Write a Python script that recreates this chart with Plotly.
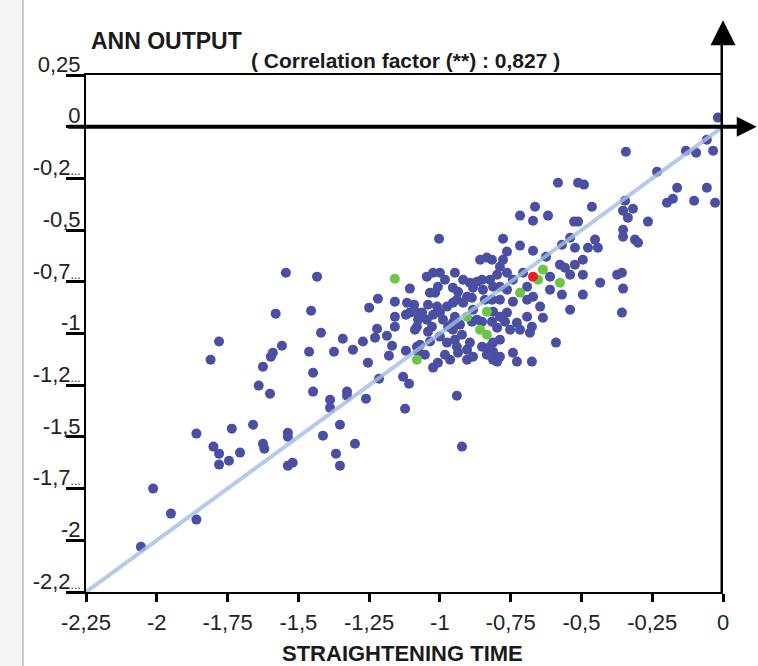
import plotly.graph_objects as go

# ---- data ----
blue_x = [-1.544, -1.434, -1.58, -1.455, -1.78, -1.81, -1.42, -1.558, -1.59, -1.597,
          -1.625, -1.462, -1.374, -1.343, -1.307, -1.64, -1.60, -1.448, -1.448, -1.388,
          -1.388, -1.328, -1.328, -1.86, -1.80, -1.78, -1.78, -1.745, -1.735, -1.706,
          -1.66, -1.625, -1.62, -1.537, -1.537, -1.537, -1.52, -1.413, -1.353, -1.367,
          -1.353, -1.30, -2.013, -1.95, -1.86, -2.056, -1.003, -1.106, -1.219, -1.25,
          -1.159, -1.272, -1.222, -1.229, -1.187, -1.159, -1.159, -1.169, -1.18, -1.254,
          -1.261, -1.215, -1.13, -1.109, -1.123, -0.94, -0.922, -1.12, -1.081, -1.077,
          -1.024, -1.007, -0.982, -1.116, -1.091, -1.081, -1.077, -1.081, -1.106, -1.12,
          -1.046, -1.024, -1.0, -0.982, -0.947, -0.918, -0.894, -0.869, -0.858, -0.834,
          -0.816, -1.035, -1.017, -0.954, -0.94, -0.904, -0.883, -0.848, -1.046, -1.028,
          -1.0, -0.989, -0.971, -0.947, -0.954, -0.929, -0.883, -0.869, -1.0, -0.975,
          -0.94, -0.904, -0.883, -0.851, -0.823, -0.812, -1.01, -0.975, -0.954, -0.918,
          -0.816, -0.583, -0.512, -0.491, -0.346, -0.664, -0.717, -0.671, -0.618, -0.463,
          -0.526, -0.512, -0.353, -0.318, -0.336, -0.353, -0.353, -0.311, -0.777, -0.717,
          -0.763, -0.671, -0.625, -0.569, -0.54, -0.523, -0.452, -0.442, -0.477, -0.495,
          -0.523, -0.576, -0.558, -0.611, -0.54, -0.495, -0.374, -0.357, -0.434, -0.353,
          -0.495, -0.569, -0.611, -0.54, -0.357, -0.646, -0.636, -0.682, -0.742, -0.763,
          -0.788, -0.823, -0.788, -0.692, -0.692, -0.671, -0.763, -0.728, -0.752, -0.788,
          -0.812, -0.742, -0.728, -0.798, -0.675, -0.59, -0.717, -0.018, -0.057, -0.131,
          -0.095, -0.035, -0.343, -0.233, -0.162, -0.057, -0.198, -0.177, -0.102, -0.028,
          -0.265, -0.30, -0.798, -0.706, -0.812, -0.763, -0.788, -0.742, -0.788, -0.692,
          -1.024, -0.954, -0.798, -0.675, -0.894, -0.788, -0.964, -0.904,
          -0.777, -0.851, -1.007, -0.936, -1.042, -0.887, -0.841, -1.063, -0.812, -0.887,
          -0.851, -0.816, -0.770, -1.088, -1.042, -0.922, -1.070, -1.035, -0.947, -0.812,
          -1.053, -0.936, -0.834]
blue_y = [-0.706, -0.725, -0.904, -0.89, -1.039, -1.127, -0.996, -1.059, -1.093, -1.112,
          -1.161, -1.088, -1.088, -1.025, -1.078, -1.252, -1.291, -1.19, -1.281, -1.32,
          -1.359, -1.281, -1.301, -1.484, -1.547, -1.581, -1.634, -1.615, -1.46, -1.576,
          -1.441, -1.533, -1.557, -1.48, -1.499, -1.639, -1.625, -1.494, -1.441, -1.581,
          -1.639, -1.533, -1.75, -1.871, -1.90, -2.031, -0.542, -0.783, -0.832, -0.875,
          -0.846, -1.039, -0.977, -1.02, -1.011, -0.919, -0.967, -1.059, -1.107, -1.141,
          -1.315, -1.219, -1.209, -1.243, -1.364, -1.301, -1.547, -1.083, -1.064, -1.088,
          -1.165, -1.141, -1.103, -0.851, -0.861, -0.899, -0.933, -0.967, -0.899, -0.909,
          -0.725, -0.706, -0.706, -0.74, -0.706, -0.74, -0.754, -0.75, -0.643, -0.633,
          -0.643, -0.803, -0.803, -0.779, -0.837, -0.822, -0.779, -0.788, -0.933, -0.967,
          -0.899, -0.933, -0.967, -0.919, -0.948, -0.957, -0.885, -0.933, -1.015, -1.044,
          -1.064, -1.078, -1.112, -1.064, -1.064, -1.127, -0.87, -0.87, -0.851, -0.851,
          -0.837, -0.271, -0.271, -0.28, -0.358, -0.387, -0.43, -0.455, -0.43, -0.387,
          -0.459, -0.459, -0.406, -0.397, -0.44, -0.498, -0.532, -0.546, -0.542, -0.575,
          -0.604, -0.60, -0.629, -0.571, -0.537, -0.585, -0.546, -0.585, -0.585, -0.643,
          -0.667, -0.667, -0.682, -0.725, -0.716, -0.716, -0.716, -0.706, -0.754, -0.783,
          -0.812, -0.812, -0.788, -0.885, -0.899, -0.87, -0.924, -0.996, -0.74, -0.706,
          -0.677, -0.74, -0.774, -0.774, -0.837, -0.822, -0.899, -0.948, -0.982, -1.03,
          -1.088, -1.093, -1.136, -1.136, -1.136, -1.044, -0.982, 0.044, -0.063, -0.116,
          -0.126, -0.116, -0.121, -0.218, -0.295, -0.295, -0.368, -0.348, -0.358, -0.368,
          -0.459, -0.561, -0.716, -0.706, -0.774, -0.788, -0.837, -0.846, -0.919, -0.919,
          -0.909, -0.982, -0.972, -0.967, -1.044, -1.112, -1.127, -1.127,
          -0.643, -0.74, -0.774, -0.798, -0.861, -0.827, -0.837, -0.899, -0.895, -0.943,
          -0.943, -0.943, -0.943, -0.982, -0.991, -1.006, -1.054, -1.039, -1.03, -1.044,
          -1.103, -1.093, -1.103]

green_x = [-1.159, -1.081, -0.904, -0.834, -0.858, -0.834, -0.636, -0.653, -0.576, -0.717]
green_y = [-0.735, -1.127, -0.919, -0.895, -0.982, -1.006, -0.691, -0.74, -0.754, -0.803]

red_x = [-0.671]
red_y = [-0.725]

fit_x = [-2.25, 0.0]
fit_y = [-2.25, 0.0]

x_ticks = [-2.25, -2.0, -1.75, -1.5, -1.25, -1.0, -0.75, -0.5, -0.25, 0.0]
x_labels = ["-2,25", "-2", "-1,75", "-1,5", "-1,25", "-1", "-0,75", "-0,5", "-0,25", "0"]
y_ticks = [0.25, 0.0, -0.25, -0.5, -0.75, -1.0, -1.25, -1.5, -1.75, -2.0, -2.25]
dots = "<span style='font-size:12px'>...</span>"
y_labels = ["0,25", "0", "-0,2" + dots, "-0,5", "-0,7" + dots, "-1", "-1,2" + dots,
            "-1,5", "-1,7" + dots, "-2", "-2,2" + dots]

FONT = "Liberation Sans, Arial, sans-serif"
BLUE = "#4a4fa3"

fig = go.Figure()
fig.add_trace(go.Scatter(x=blue_x, y=blue_y, mode="markers",
                         marker=dict(size=10, color=BLUE), cliponaxis=False, showlegend=False))
fig.add_trace(go.Scatter(x=green_x, y=green_y, mode="markers",
                         marker=dict(size=10, color="#6cc644"), cliponaxis=False, showlegend=False))
fig.add_trace(go.Scatter(x=red_x, y=red_y, mode="markers",
                         marker=dict(size=10, color="#f02020"), cliponaxis=False, showlegend=False))
fig.add_trace(go.Scatter(x=fit_x, y=fit_y, mode="lines",
                         line=dict(color="#a3bde2", width=4), opacity=0.8, showlegend=False))

fig.update_layout(
    width=758, height=666,
    margin=dict(l=86, r=35, t=75, b=74),
    paper_bgcolor="white", plot_bgcolor="white",
    font=dict(family=FONT, color="#1a1a1a"),
    xaxis=dict(range=[-2.25, 0], tickvals=x_ticks, ticktext=x_labels,
               showgrid=False, zeroline=False, showline=True, linecolor="black",
               linewidth=2, mirror=True, ticks="outside", ticklen=8, tickwidth=3,
               tickcolor="black", tickfont=dict(size=22, color="#222"),
               ticklabelstandoff=2),
    yaxis=dict(range=[-2.25, 0.25], tickvals=y_ticks, ticktext=y_labels,
               showgrid=False, zeroline=False, showline=True, linecolor="black",
               linewidth=2, ticks="outside", ticklen=18, tickwidth=3,
               tickcolor="black", tickfont=dict(size=22, color="#222"),
               ticklabelstandoff=-19, ticklabelshift=-11),
    shapes=[
        # page edge decoration
        dict(type="rect", xref="paper", yref="paper", x0=-0.135, x1=-0.1, y0=-0.2, y1=1.2,
             fillcolor="#f4f4f4", line=dict(width=0), layer="below"),
        dict(type="line", xref="paper", yref="paper", x0=-0.099, x1=-0.099, y0=-0.2, y1=1.2,
             line=dict(color="#c8c8c8", width=2)),
        # thick zero lines
        dict(type="line", xref="paper", yref="y", x0=-0.028, x1=1.035, y0=0, y1=0,
             line=dict(color="black", width=4)),
        dict(type="line", xref="x", yref="paper", x0=0, x1=0, y0=0, y1=1.09,
             line=dict(color="black", width=5)),
    ],
    annotations=[
        dict(xref="paper", yref="y", x=1.053, y=0, ax=-18, ay=0, text="", showarrow=True,
             arrowhead=2, arrowsize=1, arrowwidth=4, arrowcolor="black"),
        dict(xref="x", yref="paper", x=0, y=1.106, ax=0, ay=18, text="", showarrow=True,
             arrowhead=2, arrowsize=1, arrowwidth=5, arrowcolor="black"),
        dict(xref="paper", yref="paper", x=0.005, y=1.0658, xanchor="left", yanchor="middle",
             text="<b>ANN OUTPUT</b>", showarrow=False, font=dict(size=23, color="#1a1a1a")),
        dict(xref="paper", yref="paper", x=0.5008, y=1.029, xanchor="center", yanchor="middle",
             text="<b>( Correlation factor (**) : 0,827 )</b>", showarrow=False,
             font=dict(size=21, color="#1a1a1a")),
        dict(xref="paper", yref="paper", x=0.4976, y=-0.118, xanchor="center", yanchor="middle",
             text="<b>STRAIGHTENING TIME</b>", showarrow=False, font=dict(size=22, color="#1a1a1a")),
    ],
)

fig.write_html("out.html")
